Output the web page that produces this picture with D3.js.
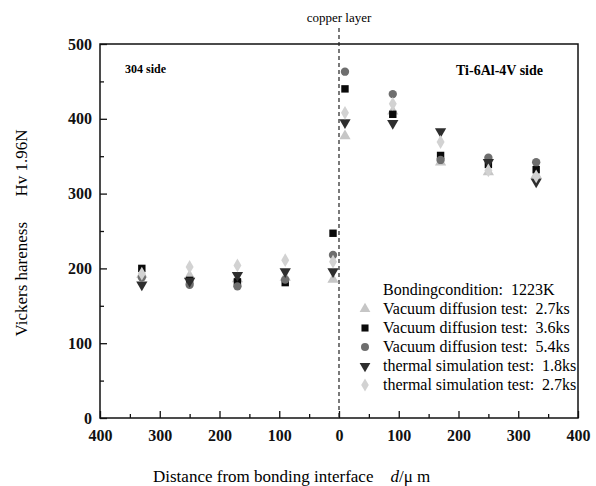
<!DOCTYPE html>
<html>
<head>
<meta charset="utf-8">
<script src="https://cdn.jsdelivr.net/npm/d3@7"></script>
<style>
  body { margin: 0; background: #fff; }
</style>
</head>
<body>
<div id="chart-container"></div>
<script>
// distance from bonding interface (negative = 304 side)
const positions = [-330, -250, -170, -90, -10, 10, 90, 170, 250, 330];
const vac27 = [192, 190, 186, 188, 185, 377, 410, 342, 329, 325];
const vac36 = [200, 184, 182, 181, 247, 440, 406, 351, 339, 332];
const vac54 = [188, 178, 176, 185, 218, 463, 433, 345, 348, 342];
const therm18 = [178, 183, 191, 196, 196, 395, 394, 383, 342, 316];
const therm27 = [193, 202, 204, 211, 209, 408, 420, 369, 331, 323];

const seriesNames = [
  "Vacuum diffusion test:  2.7ks",
  "Vacuum diffusion test:  3.6ks",
  "Vacuum diffusion test:  5.4ks",
  "thermal simulation test:  1.8ks",
  "thermal simulation test:  2.7ks"
];
const xTicks = [-400, -300, -200, -100, 0, 100, 200, 300, 400];
const yTicks = [0, 100, 200, 300, 400, 500];

const FONT = "'Liberation Serif', 'DejaVu Serif', 'Times New Roman', serif";
const width = 596;
const height = 486;

const svg = d3.select("#chart-container")
    .append("svg")
    .attr("width", width)
    .attr("height", height)
    .attr("font-family", FONT);

const xScale = d3.scaleLinear().domain([-400, 400]).range([100, 578]);
const yScale = d3.scaleLinear().domain([0, 500]).range([418, 44]);

// frame
svg.append("rect")
    .attr("x", xScale(-400))
    .attr("y", yScale(500))
    .attr("width", xScale(400) - xScale(-400))
    .attr("height", yScale(0) - yScale(500))
    .attr("fill", "none")
    .attr("stroke", "#111")
    .attr("stroke-width", 1.5);

// minor ticks
svg.append("g")
    .attr("transform", `translate(0, ${yScale(0)})`)
    .call(d3.axisBottom(xScale).tickValues(d3.range(-350, 400, 100)).tickSize(-4).tickFormat(""))
    .call(g => g.select(".domain").remove());
svg.append("g")
    .attr("transform", `translate(${xScale(-400)}, 0)`)
    .call(d3.axisLeft(yScale).tickValues(d3.range(50, 500, 100)).tickSize(-4).tickFormat(""))
    .call(g => g.select(".domain").remove());

// major ticks + labels
const xAxis = svg.append("g")
    .attr("transform", `translate(0, ${yScale(0)})`)
    .call(d3.axisBottom(xScale).tickValues(xTicks).tickSizeInner(-7).tickSizeOuter(0)
      .tickPadding(12).tickFormat(d => Math.abs(d)));
const yAxis = svg.append("g")
    .attr("transform", `translate(${xScale(-400)}, 0)`)
    .call(d3.axisLeft(yScale).tickValues(yTicks).tickSizeInner(-7).tickSizeOuter(0)
      .tickPadding(8));

[xAxis, yAxis].forEach(g => {
  g.attr("font-family", FONT).attr("font-size", 16).attr("font-weight", "bold");
  g.select(".domain").remove();
  g.selectAll("text").attr("fill", "#111");
});
svg.selectAll(".tick line").attr("stroke", "#111").attr("stroke-width", 1.3);

// copper layer line
svg.append("line")
    .attr("x1", xScale(0)).attr("x2", xScale(0))
    .attr("y1", 28).attr("y2", yScale(0))
    .attr("stroke", "#222")
    .attr("stroke-width", 1.2)
    .attr("stroke-dasharray", "4,3");
svg.append("text")
    .attr("x", xScale(0))
    .attr("y", 22)
    .attr("text-anchor", "middle")
    .attr("font-size", 13)
    .text("copper layer");

svg.append("text")
    .attr("x", 125).attr("y", 73)
    .attr("font-size", 12).attr("font-weight", "bold")
    .text("304 side");
svg.append("text")
    .attr("x", 456).attr("y", 75)
    .attr("font-size", 14).attr("font-weight", "bold")
    .text("Ti-6Al-4V side");

// series
const series = [
  { name: seriesNames[0], values: vac27, symbol: d3.symbolTriangle, fill: "#c6c6c6", rotate: 0 },
  { name: seriesNames[1], values: vac36, symbol: d3.symbolSquare, fill: "#0a0a0a", rotate: 0 },
  { name: seriesNames[2], values: vac54, symbol: d3.symbolCircle, fill: "#6e6e6e", rotate: 0 },
  { name: seriesNames[3], values: therm18, symbol: d3.symbolTriangle, fill: "#2e2e2e", rotate: 180 },
  { name: seriesNames[4], values: therm27, symbol: d3.symbolDiamond, fill: "#d2d2d2", rotate: 0 }
];

series.forEach(s => {
  const path = d3.symbol().type(s.symbol).size(55)();
  svg.append("g")
      .selectAll("path")
      .data(s.values.map((v, i) => ({ x: positions[i], y: v })))
      .enter()
      .append("path")
      .attr("d", path)
      .attr("fill", s.fill)
      .attr("transform", d => `translate(${xScale(d.x)}, ${yScale(d.y)}) rotate(${s.rotate})`);
});

// legend
const legend = svg.append("g").attr("transform", "translate(365, 290)");
legend.append("text")
    .attr("x", 18).attr("y", 5)
    .attr("font-size", 16)
    .attr("xml:space", "preserve")
    .text("Bondingcondition:  1223K");
series.forEach((s, i) => {
  const row = legend.append("g").attr("transform", `translate(0, ${(i + 1) * 19})`);
  row.append("path")
      .attr("d", d3.symbol().type(s.symbol).size(50)())
      .attr("fill", s.fill)
      .attr("transform", `rotate(${s.rotate})`);
  row.append("text")
      .attr("x", 18).attr("y", 5)
      .attr("font-size", 16)
      .attr("xml:space", "preserve")
      .text(s.name);
});

// axis titles
svg.append("text")
    .attr("transform", "translate(27, 233) rotate(-90)")
    .attr("text-anchor", "middle")
    .attr("font-size", 17)
    .attr("xml:space", "preserve")
    .text("Vickers hareness      Hv 1.96N");

const xTitle = svg.append("text")
    .attr("x", 153).attr("y", 482)
    .attr("font-size", 17)
    .attr("xml:space", "preserve");
xTitle.append("tspan").text("Distance from bonding interface    ");
xTitle.append("tspan").attr("font-style", "italic").text("d");
xTitle.append("tspan").text("/μ m");
</script>
</body>
</html>
